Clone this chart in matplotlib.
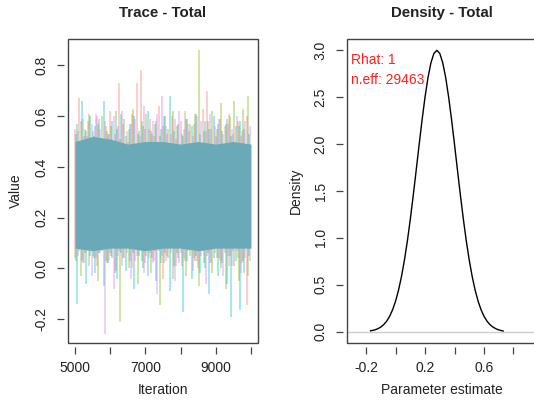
import numpy as np
import matplotlib
matplotlib.use("Agg")
import matplotlib.pyplot as plt
from matplotlib.patches import Rectangle

plt.rcParams['font.family'] = ['Liberation Sans', 'DejaVu Sans']

# ---- trace data ----
chain_names = ['chain1', 'chain2', 'chain3', 'chain4']
chain_colors = ['#F8766D', '#7CAE00', '#00BFC4', '#C77CFF']
chain_offset = [0, 31, 62, 94]          # first spike iteration after 5000
spike_step = 125

up_1 = [0.55, 0.67, 0.52, 0.58, 0.54, 0.60, 0.51, 0.56, 0.62, 0.53, 0.73, 0.57, 0.50, 0.61, 0.73, 0.78, 0.55, 0.59, 0.52, 0.64,
        0.56, 0.53, 0.60, 0.51, 0.58, 0.62, 0.54, 0.57, 0.50, 0.63, 0.70, 0.55, 0.52, 0.59, 0.56, 0.61, 0.53, 0.58, 0.54, 0.60]
down_1 = [0.04, 0.07, 0.02, 0.09, 0.05, 0.01, 0.08, 0.03, 0.06, -0.02, 0.07, 0.04, 0.09, 0.00, 0.05, 0.08, 0.02, 0.06, 0.03, 0.07,
          -0.04, 0.05, 0.08, 0.01, 0.06, 0.03, 0.09, 0.04, 0.00, 0.07, 0.05, 0.02, 0.08, 0.03, 0.06, 0.01, 0.07, 0.04, 0.02, -0.145]
up_2 = [0.53, 0.58, 0.55, 0.61, 0.52, 0.57, 0.60, 0.54, 0.56, 0.62, 0.51, 0.59, 0.55, 0.63, 0.53, 0.58, 0.61, 0.54, 0.57, 0.52,
        0.60, 0.55, 0.62, 0.56, 0.53, 0.59, 0.57, 0.61, 0.86, 0.54, 0.58, 0.62, 0.55, 0.65, 0.57, 0.60, 0.66, 0.56, 0.63, 0.68]
down_2 = [0.03, -0.03, 0.06, 0.01, 0.04, -0.05, 0.07, 0.02, 0.05, -0.01, -0.21, 0.04, 0.00, 0.06, -0.06, 0.03, 0.05, -0.02, 0.07, -0.145,
          0.02, 0.04, -0.04, 0.06, 0.01, -0.03, 0.05, 0.03, -0.07, 0.02, 0.06, -0.02, 0.04, 0.00, -0.08, 0.05, 0.01, -0.05, 0.03, -0.03]
up_3 = [0.57, 0.66, 0.54, 0.60, 0.56, 0.59, 0.66, 0.53, 0.58, 0.55, 0.61, 0.52, 0.57, 0.60, 0.54, 0.56, 0.62, 0.53, 0.58, 0.55,
        0.60, 0.68, 0.54, 0.57, 0.52, 0.59, 0.56, 0.61, 0.53, 0.58, 0.55, 0.60, 0.57, 0.54, 0.59, 0.52, 0.56, 0.58, 0.55, 0.53]
down_3 = [-0.14, 0.03, -0.06, 0.05, -0.02, 0.06, -0.07, 0.02, 0.04, -0.04, 0.06, -0.01, 0.03, -0.08, 0.05, 0.00, -0.03, 0.04, -0.05, 0.02,
          0.06, -0.09, 0.01, 0.04, -0.17, 0.03, -0.04, 0.05, -0.02, 0.00, -0.10, 0.04, -0.03, 0.02, -0.06, -0.19, 0.03, -0.165, -0.02, 0.05]
up_4 = [0.54, 0.59, 0.52, 0.57, 0.61, 0.55, 0.58, 0.53, 0.60, 0.56, 0.62, 0.54, 0.57, 0.59, 0.52, 0.64, 0.55, 0.58, 0.61, 0.68,
        0.56, 0.53, 0.59, 0.62, 0.55, 0.57, 0.52, 0.60, 0.58, 0.54, 0.61, 0.56, 0.59, 0.53, 0.57, 0.55, 0.60, 0.52, 0.58, 0.56]
down_4 = [0.05, 0.02, 0.07, -0.03, 0.04, 0.06, -0.26, 0.03, -0.08, 0.05, 0.01, 0.06, -0.04, 0.03, 0.07, -0.02, 0.04, 0.02, -0.10, 0.05,
          0.03, 0.06, -0.05, 0.02, 0.04, 0.07, -0.01, 0.03, 0.05, -0.06, 0.02, 0.06, 0.04, -0.03, 0.05, 0.01, 0.07, -0.02, 0.04, 0.03]
ups = [up_1, up_2, up_3, up_4]
downs = [down_1, down_2, down_3, down_4]

# solid core where the chains overlap
core_iter = [5000, 5500, 6000, 6500, 7000, 7500, 8000, 8500, 9000, 9500, 10000]
core_top = [0.50, 0.52, 0.51, 0.49, 0.50, 0.50, 0.49, 0.50, 0.49, 0.50, 0.49]
core_bottom = [0.08, 0.07, 0.08, 0.08, 0.07, 0.08, 0.08, 0.07, 0.08, 0.08, 0.08]
core_color = '#69A9B8'

# ---- density data ----
dens_x = [-0.17, -0.14, -0.12, -0.10, -0.08, -0.06, -0.04, -0.02, 0.00, 0.02, 0.04, 0.06, 0.08, 0.10, 0.12, 0.14,
          0.16, 0.18, 0.20, 0.22, 0.24, 0.26, 0.28, 0.30, 0.32, 0.34, 0.36, 0.38, 0.40, 0.42, 0.44, 0.46,
          0.48, 0.50, 0.52, 0.54, 0.56, 0.58, 0.60, 0.62, 0.64, 0.66, 0.68, 0.70, 0.73]
dens_y = [0.01, 0.02, 0.033, 0.051, 0.077, 0.114, 0.166, 0.236, 0.327, 0.444, 0.589, 0.764, 0.968, 1.201, 1.455, 1.724,
          1.997, 2.261, 2.503, 2.710, 2.867, 2.966, 3.0, 2.966, 2.867, 2.710, 2.503, 2.261, 1.997, 1.724, 1.455, 1.201,
          0.968, 0.764, 0.589, 0.444, 0.327, 0.236, 0.166, 0.114, 0.077, 0.051, 0.033, 0.02, 0.008]
rhat = '1'
neff = '29463'

fig = plt.figure(figsize=(5.34, 4.07), dpi=100)
ax1 = fig.add_axes([0.1273, 0.1572, 0.3558, 0.7469])
ax2 = fig.add_axes([0.6498, 0.1572, 0.3558, 0.7469])

ink = '#222222'

def r_style(ax):
    for s in ax.spines.values():
        s.set_color('none')
        s.set_position(('outward', 3))
    ax.add_patch(Rectangle((0, 0), 1, 1, transform=ax.transAxes, fill=False,
                           lw=1.0, ec='#444444', clip_on=False, zorder=10))
    ax.tick_params(direction='out', length=5, width=0.9, color='#444444',
                   labelsize=10, labelcolor=ink)
    ax.tick_params(axis='x', pad=5)
    ax.tick_params(axis='y', pad=6)
    for lab in ax.get_yticklabels():
        lab.set_rotation(90)
        lab.set_va('center')

# trace panel
for k in range(len(chain_names)):
    it = np.arange(5000 + chain_offset[k], 10000, spike_step)[:len(ups[k])]
    ax1.vlines(it, 0.3, ups[k], color=chain_colors[k], lw=1.1, alpha=0.45)
    ax1.vlines(it, downs[k], 0.3, color=chain_colors[k], lw=1.1, alpha=0.45)
ax1.fill_between(core_iter, core_bottom, core_top, color=core_color, lw=0, zorder=3)
ax1.set_xlim(4800, 10200)
ax1.set_ylim(-0.294, 0.904)
ax1.set_xticks([5000, 6000, 7000, 8000, 9000, 10000])
ax1.set_xticklabels(['5000', '', '7000', '', '9000', ''])
ax1.set_yticks([-0.2, 0.0, 0.2, 0.4, 0.6, 0.8])
ax1.set_yticklabels(['-0.2', '0.0', '0.2', '0.4', '0.6', '0.8'])
r_style(ax1)
ax1.set_title('Trace - Total', fontsize=10.8, fontweight='bold', color=ink, pad=16)
ax1.set_xlabel('Iteration', fontsize=10, color=ink, labelpad=6)
ax1.set_ylabel('Value', fontsize=10, color=ink, labelpad=8)

# density panel
ax2.axhline(0, color='#CCCCCC', lw=1.0)
ax2.plot(dens_x, dens_y, color='black', lw=1.0)
ax2.set_xlim(-0.33, 0.96)
ax2.set_ylim(-0.12, 3.12)
ax2.set_xticks([-0.2, 0.0, 0.2, 0.4, 0.6, 0.8])
ax2.set_xticklabels(['-0.2', '', '0.2', '', '0.6', ''])
ax2.set_yticks([0.0, 0.5, 1.0, 1.5, 2.0, 2.5, 3.0])
ax2.set_yticklabels(['0.0', '0.5', '1.0', '1.5', '2.0', '2.5', '3.0'])
r_style(ax2)
ax2.text(0.02, 0.93, 'Rhat: ' + rhat, transform=ax2.transAxes, color='#FF2020', fontsize=10, va='center')
ax2.text(0.02, 0.865, 'n.eff: ' + neff, transform=ax2.transAxes, color='#FF2020', fontsize=10, va='center')
ax2.set_title('Density - Total', fontsize=10.8, fontweight='bold', color=ink, pad=16)
ax2.set_xlabel('Parameter estimate', fontsize=10, color=ink, labelpad=6)
ax2.set_ylabel('Density', fontsize=10, color=ink, labelpad=8)

fig.savefig('out.png', dpi=100)
